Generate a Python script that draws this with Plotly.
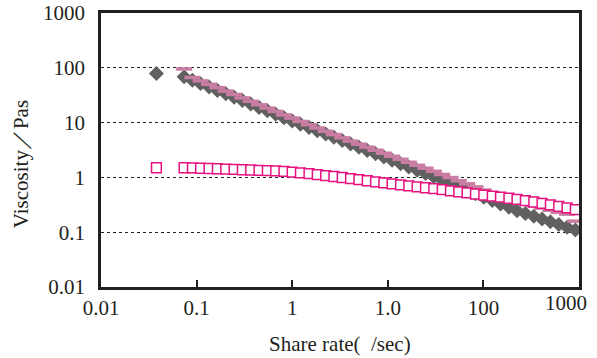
import plotly.graph_objects as go

# Shear rate (1/s) for the flow-curve sweep
shear_rate = [0.074, 0.0904, 0.110, 0.135, 0.165, 0.202, 0.247, 0.301, 0.368, 0.450,
              0.550, 0.672, 0.821, 1.00, 1.22, 1.50, 1.83, 2.24, 2.73, 3.34,
              4.08, 4.99, 6.10, 7.45, 9.10, 11.1, 13.6, 16.6, 20.3, 24.8,
              30.3, 37.1, 45.3, 55.3, 67.6, 82.7, 101, 124, 151, 185,
              225, 275, 337, 411, 502, 614, 750, 916]

# Extra low-rate point recorded for samples A and C
first_rate = [0.038]

# Sample A (grey diamonds), viscosity in Pa·s
visc_a = [79] + [68.4, 59.3, 51.4, 44.6, 38.6, 33.5, 29.0, 25.2, 21.8, 18.9,
                 16.4, 14.2, 12.3, 10.7, 9.35, 8.15, 7.10, 6.18, 5.38, 4.69,
                 4.08, 3.56, 3.10, 2.70, 2.35, 2.05, 1.78, 1.55, 1.35, 1.18,
                 1.03, 0.889, 0.771, 0.668, 0.579, 0.502, 0.436, 0.378, 0.327, 0.284,
                 0.246, 0.219, 0.195, 0.174, 0.155, 0.138, 0.123, 0.110]

# Sample B (mauve dashes)
visc_b = [95.1, 66.5, 57.7, 50.0, 43.4, 37.6, 32.6, 28.2, 24.5, 21.2,
          18.4, 16.0, 13.8, 12.1, 10.5, 9.14, 7.96, 6.93, 6.04, 5.26,
          4.58, 4.04, 3.56, 3.13, 2.76, 2.43, 2.14, 1.89, 1.66, 1.47,
          1.29, 1.13, 0.993, 0.871, 0.764, 0.670, 0.587, 0.521, 0.462, 0.410,
          0.364, 0.332, 0.303, 0.276, 0.252, 0.230, 0.214, 0.159]

# Sample C (open magenta squares)
visc_c = [1.50] + [1.500, 1.486, 1.469, 1.455, 1.439, 1.419, 1.400, 1.380, 1.365, 1.349,
                   1.334, 1.315, 1.291, 1.250, 1.208, 1.167, 1.125, 1.081, 1.038, 0.995,
                   0.953, 0.910, 0.869, 0.830, 0.794, 0.762, 0.731, 0.702, 0.673, 0.647,
                   0.622, 0.596, 0.570, 0.546, 0.521, 0.498, 0.475, 0.454, 0.435, 0.416,
                   0.396, 0.376, 0.356, 0.336, 0.316, 0.297, 0.278, 0.258]

x_tick_vals = [0.01, 0.1, 1, 10, 100, 1000]
x_tick_text = ["0.01", "0.1", "1", "1.0", "100", ""]
x_last_label = "1000"
y_tick_vals = [0.01, 0.1, 1, 10, 100, 1000]
y_tick_text = ["0.01", "0.1", "1", "10", "100", "1000"]

FONT = "Liberation Serif, Times New Roman, serif"
INK = "#231f20"

fig = go.Figure()
fig.add_trace(go.Scatter(
    x=first_rate + shear_rate, y=visc_a, mode="markers",
    marker=dict(symbol="diamond", size=11.5, color="#606060", line=dict(width=0)),
))
fig.add_trace(go.Scatter(
    x=shear_rate, y=visc_b, mode="markers",
    marker=dict(symbol="line-ew", size=11.5, color="#c97da2",
                line=dict(width=3.5, color="#c97da2")),
))
fig.add_trace(go.Scatter(
    x=first_rate + shear_rate, y=visc_c, mode="markers",
    marker=dict(symbol="square", size=9.8, color="white",
                line=dict(width=1.5, color="#e6117f")),
))

fig.update_layout(
    width=597, height=358,
    margin=dict(l=101, r=18, t=13, b=71, autoexpand=False),
    paper_bgcolor="white", plot_bgcolor="white",
    showlegend=False,
    font=dict(family=FONT, size=21, color=INK),
    xaxis=dict(
        type="log", range=[-2, 3], automargin=False,
        tickvals=x_tick_vals, ticktext=x_tick_text,
        ticks="inside", ticklen=7, tickwidth=1.5, tickcolor=INK,
        showgrid=False, zeroline=False,
        showline=True, linewidth=2.7, linecolor=INK, mirror=True,
        ticklabelstandoff=0,
        tickfont=dict(family=FONT, size=21, color=INK),
    ),
    yaxis=dict(
        type="log", range=[-2, 3], automargin=False,
        tickvals=y_tick_vals, ticktext=y_tick_text,
        ticks="", showgrid=True, gridcolor="#222222", gridwidth=1.3, griddash="dot",
        zeroline=False,
        showline=True, linewidth=2.7, linecolor=INK, mirror=True,
        ticklabelstandoff=9,
        tickfont=dict(family=FONT, size=21, color=INK),
    ),
    annotations=[
        # last x tick label, nudged left so it stays inside the page
        dict(text=x_last_label, xref="x", yref="paper",
             x=3, y=0, xanchor="center", yanchor="top", xshift=-13, yshift=-2,
             showarrow=False, font=dict(family=FONT, size=21, color=INK)),
        dict(text="Share rate(\u00a0\u00a0/sec)", xref="paper", yref="paper",
             x=0.5, y=-0.208, xanchor="center", yanchor="middle",
             showarrow=False, font=dict(family=FONT, size=21, color=INK)),
        dict(text="Viscosity\uff0fPas", xref="paper", yref="paper",
             x=-0.167, y=0.449, xanchor="center", yanchor="middle", textangle=-90,
             showarrow=False, font=dict(family=FONT, size=21, color=INK)),
    ],
)

fig.write_html("out.html")
